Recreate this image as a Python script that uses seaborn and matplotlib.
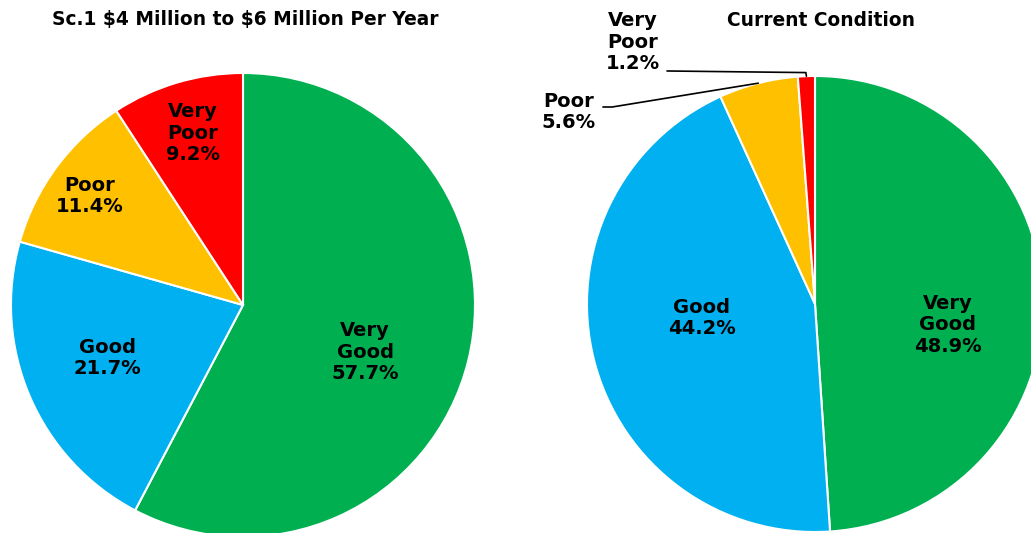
import numpy as np
import matplotlib
matplotlib.use("Agg")
import matplotlib.pyplot as plt
import seaborn as sns

sns.set_theme(style="white")
plt.rcParams["font.family"] = ["DejaVu Sans"]

CATEGORIES = ["Very Good", "Good", "Poor", "Very Poor"]
LABELS = ["Very\nGood", "Good", "Poor", "Very\nPoor"]
SCENARIO_VALUES = [57.7, 21.7, 11.4, 9.2]
CURRENT_VALUES = [48.9, 44.2, 5.6, 1.2]
TITLES = [r"Sc.1 \$4 Million to \$6 Million Per Year", "Current Condition"]

COLORS = ["#00B050", "#00B0F0", "#FFC000", "#FF0000"]

W, H = 1031, 533
# pie centre (px) and radius (px)
PIES = [(243, 305, 232), (815, 304, 228)]
TITLE_X = [245, 821]

# label centres in pie-radius units
LEFT_POS = [(0.526, -0.203), (-0.586, -0.228), (-0.659, 0.470), (-0.216, 0.741)]
RIGHT_POS = [(0.583, -0.092), (-0.496, -0.061), (-1.079, 0.842), (-0.798, 1.149)]

fig = plt.figure(figsize=(W / 100, H / 100), dpi=100)


def draw_pie(idx, values, label_pos, leaders):
    cx, cy, r = PIES[idx]
    ax = fig.add_axes([(cx - r) / W, (H - cy - r) / H, 2 * r / W, 2 * r / H])
    wedges, _ = ax.pie(
        values,
        colors=COLORS,
        startangle=90,
        counterclock=False,
        radius=1,
        wedgeprops=dict(edgecolor="white", linewidth=1.5),
    )
    ax.set_xlim(-1, 1)
    ax.set_ylim(-1, 1)
    ax.set_aspect("equal")
    ax.axis("off")
    for i, (lab, val) in enumerate(zip(LABELS, values)):
        x, y = label_pos[i]
        ax.text(x, y, f"{lab}\n{val:.1f}%", ha="center", va="center",
                fontsize=14, fontweight="bold", color="black",
                linespacing=1.18, clip_on=False)
    for i, pts in leaders.items():
        w = wedges[i]
        mid = np.deg2rad((w.theta1 + w.theta2) / 2)
        ex, ey = np.cos(mid), np.sin(mid)
        xs = [ex] + [p[0] for p in pts]
        ys = [ey] + [p[1] for p in pts]
        ax.plot(xs, ys, color="black", linewidth=1.2, clip_on=False)
    fig.text(TITLE_X[idx] / W, 1 - 20 / H, TITLES[idx], ha="center",
             va="center", fontsize=13.4, fontweight="bold", color="black")


draw_pie(0, SCENARIO_VALUES, LEFT_POS, {})
draw_pie(1, CURRENT_VALUES, RIGHT_POS,
         {2: [(-0.890, 0.864), (-0.930, 0.864)],
          3: [(-0.040, 1.015), (-0.649, 1.022)]})

fig.savefig("out.png", dpi=100)
